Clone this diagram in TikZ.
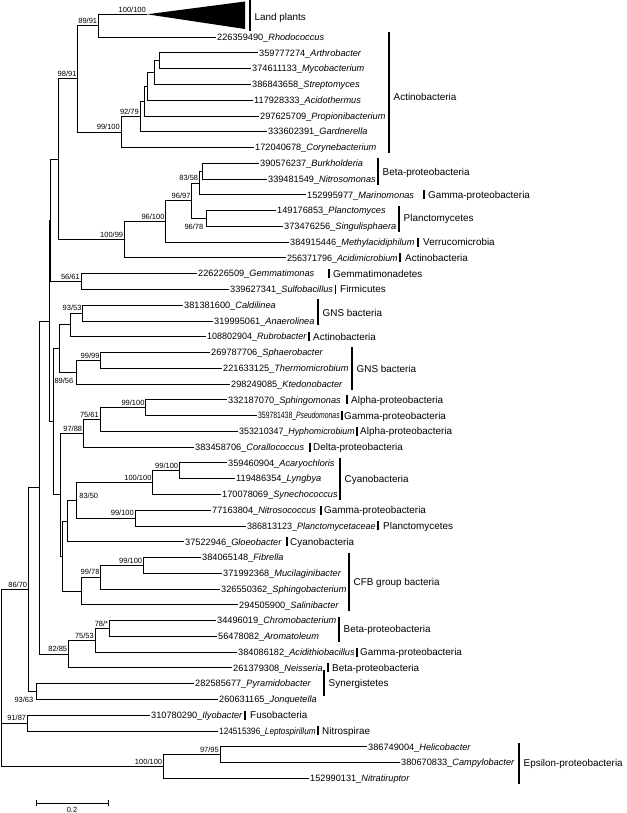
\documentclass[tikz,border=0pt]{standalone}
\usepackage{fontspec}
\usepackage{graphicx}
\setmainfont{Liberation Sans}
\usetikzlibrary{calc}
\newlength{\fitlen}
\newcommand{\fitto}[2]{\settowidth{\fitlen}{#2}\ifdim\fitlen>#1\relax\pgfmathsetmacro{\fitr}{#1/\fitlen}\scalebox{\fitr}[1]{#2}\else #2\fi}
\newcommand{\edge}[2]{\draw[br] (#1) |- (#2);}
\newcommand{\tleaf}[5]{\node[leaf] (#1) at (#2,#3) {\fitto{#4pt}{#5}};}
\newcommand{\ginl}[5]{\draw[gbar] (#2,#3-4.5) -- (#2,#3+4.5); \node[grp] (#1) at (#4,#3) {#5};}
\newcommand{\gblock}[6]{\draw[gbar] (#2,#3) -- (#2,#4); \node[grp] (#1) at (#2+4.5,#5) {#6};}
\begin{document}
\begin{tikzpicture}[x=1pt,y=-1pt,
  br/.style={line width=0.75pt},
  gbar/.style={line width=1.1pt},
  leaf/.style={anchor=west, inner sep=1pt, font=\fontsize{9.2}{10}\selectfont, text height=6.6pt, text depth=0pt},
  grp/.style={anchor=west, inner sep=0pt, font=\fontsize{9.9}{11}\selectfont, text height=7.1pt, text depth=0pt},
  bsbase/.style={inner sep=0.5pt, font=\fontsize{7.5}{8}\selectfont, text height=5.4pt, text depth=0pt},
  bs/.style={bsbase, anchor=south east, xshift=-0.5pt, yshift=1.5pt},
  bsb/.style={bsbase, anchor=north east, xshift=-2pt, yshift=-5.3pt},
  bsr/.style={bsbase, anchor=south west, xshift=2pt, yshift=1.5pt}]
\useasboundingbox (0,0) rectangle (626,813);

% internal nodes
\coordinate (root) at (1.5,677.9);
\coordinate (n8670) at (28.3,589.5);
\coordinate (n9187) at (27.3,723.0);
\coordinate (nE) at (163.3,766.4);
\coordinate (n9795) at (220,754.55);
\coordinate (nK) at (39.3,487.45);
\coordinate (n9363) at (36,691.5);
\coordinate (nZ) at (49.3,320.9);
\coordinate (n8285) at (68.3,654.0);
\coordinate (n7553) at (95,640.25);
\coordinate (n78) at (109.3,628.4);
\coordinate (nY) at (50.3,220.3);
\coordinate (nM) at (53.3,421.55);
\coordinate (nX) at (58.3,159.2);
\coordinate (n5661) at (81,281.45);
\coordinate (n9891) at (77.7,78.8);
\coordinate (n10099) at (124.3,239.55);
\coordinate (n8991) at (98.3,25.65);
\coordinate (nA99) at (121,131.9);
\coordinate (n9279) at (140,116.35);
\coordinate (nP) at (144,101.1);
\coordinate (nQ) at (147.7,86.3);
\coordinate (nR) at (154.7,72.5);
\coordinate (nS) at (159.7,60.65);
\coordinate (n96100) at (165.7,221.3);
\coordinate (n9697) at (191.7,200.65);
\coordinate (n8358) at (199.3,182.9);
\coordinate (nT) at (202.3,171.05);
\coordinate (n9678) at (206,218.4);
\coordinate (nW) at (59.3,348.5);
\coordinate (nV) at (70,324.8);
\coordinate (n9353) at (82.7,313.0);
\coordinate (n8956) at (76,372.15);
\coordinate (n9999) at (100.7,360.3);
\coordinate (nI) at (60,494.6);
\coordinate (n9788) at (83.3,433.2);
\coordinate (n7561) at (100,419.45);
\coordinate (nB99) at (145.7,407.6);
\coordinate (nH) at (62.7,555.95);
\coordinate (nG) at (67.7,521.0);
\coordinate (n8350) at (76.7,500.3);
\coordinate (nC100) at (152.7,482.55);
\coordinate (nC99) at (179.3,470.7);
\coordinate (nD99) at (135,518.0);
\coordinate (nCFB) at (81,590.9);
\coordinate (n9978) at (100.7,577.15);
\coordinate (nE99) at (143.3,565.3);
\coordinate (lp) at (147,14.3);

% leaves
\tleaf{l1}{216}{37.0}{169}{226359490\_\textit{Rhodococcus}}
\tleaf{l2}{258}{52.8}{127.5}{359777274\_\textit{Arthrobacter}}
\tleaf{l3}{251}{68.5}{134.5}{374611133\_\textit{Mycobacterium}}
\tleaf{l4}{251}{84.3}{134.5}{386843658\_\textit{Streptomyces}}
\tleaf{l5}{253}{100.1}{132.5}{117928333\_\textit{Acidothermus}}
\tleaf{l6}{259}{115.9}{126.5}{297625709\_\textit{Propionibacterium}}
\tleaf{l7}{267}{131.6}{118.5}{333602391\_\textit{Gardnerella}}
\tleaf{l8}{254}{147.4}{131.5}{172040678\_\textit{Corynebacterium}}
\tleaf{l9}{259}{163.2}{115.5}{390576237\_\textit{Burkholderia}}
\tleaf{l10}{267}{178.9}{107.5}{339481549\_\textit{Nitrosomonas}}
\tleaf{l11}{306}{194.7}{114.5}{152995977\_\textit{Marinomonas}}
\tleaf{l12}{276}{210.5}{119.5}{149176853\_\textit{Planctomyces}}
\tleaf{l13}{283}{226.3}{112.5}{373476256\_\textit{Singulisphaera}}
\tleaf{l14}{289}{242.0}{125.5}{384915446\_\textit{Methylacidiphilum}}
\tleaf{l15}{286}{257.8}{110.5}{256371796\_\textit{Acidimicrobium}}
\tleaf{l16}{197}{273.6}{128.5}{226226509\_\textit{Gemmatimonas}}
\tleaf{l17}{229}{289.3}{103}{339627341\_\textit{Sulfobacillus}}
\tleaf{l18}{183}{305.1}{131.5}{381381600\_\textit{Caldilinea}}
\tleaf{l19}{213}{320.9}{101.5}{319995061\_\textit{Anaerolinea}}
\tleaf{l20}{206}{336.6}{99.5}{108802904\_\textit{Rubrobacter}}
\tleaf{l21}{210}{352.4}{138.5}{269787706\_\textit{Sphaerobacter}}
\tleaf{l22}{222}{368.2}{126.5}{221633125\_\textit{Thermomicrobium}}
\tleaf{l23}{230}{384.0}{118.5}{298249085\_\textit{Ktedonobacter}}
\tleaf{l24}{227}{399.7}{116.5}{332187070\_\textit{Sphingomonas}}
\tleaf{l25}{257}{415.5}{81.5}{359781438\_\textit{Pseudomonas}}
\tleaf{l26}{238}{431.3}{115.5}{353210347\_\textit{Hyphomicrobium}}
\tleaf{l27}{194}{447.0}{112.5}{383458706\_\textit{Corallococcus}}
\tleaf{l28}{227}{462.8}{109.5}{359460904\_\textit{Acaryochloris}}
\tleaf{l29}{235}{478.6}{101.5}{119486354\_\textit{Lyngbya}}
\tleaf{l30}{221}{494.4}{115.5}{170078069\_\textit{Synechococcus}}
\tleaf{l31}{211}{510.1}{106.5}{77163804\_\textit{Nitrosococcus}}
\tleaf{l32}{246}{525.9}{128.5}{386813123\_\textit{Planctomycetaceae}}
\tleaf{l33}{184}{541.7}{99.5}{37522946\_\textit{Gloeobacter}}
\tleaf{l34}{201}{557.4}{144.5}{384065148\_\textit{Fibrella}}
\tleaf{l35}{222}{573.2}{123.5}{371992368\_\textit{Mucilaginibacter}}
\tleaf{l36}{220}{589.0}{125.5}{326550362\_\textit{Sphingobacterium}}
\tleaf{l37}{238}{604.7}{107.5}{294505900\_\textit{Salinibacter}}
\tleaf{l38}{216}{620.5}{119.5}{34496019\_\textit{Chromobacterium}}
\tleaf{l39}{217}{636.3}{118.5}{56478082\_\textit{Aromatoleum}}
\tleaf{l40}{237}{652.1}{116.5}{384086182\_\textit{Acidithiobacillus}}
\tleaf{l41}{232}{667.8}{92.5}{261379308\_\textit{Neisseria}}
\tleaf{l42}{194}{683.6}{126.5}{282585677\_\textit{Pyramidobacter}}
\tleaf{l43}{218}{699.4}{102.5}{260631165\_\textit{Jonquetella}}
\tleaf{l44}{150}{715.1}{91.5}{310780290\_\textit{Ilyobacter}}
\tleaf{l45}{218}{730.9}{96.5}{124515396\_\textit{Leptospirillum}}
\tleaf{l46}{367}{746.7}{148}{386749004\_\textit{Helicobacter}}
\tleaf{l47}{400}{762.4}{115.5}{380670833\_\textit{Campylobacter}}
\tleaf{l48}{309}{778.2}{206}{152990131\_\textit{Nitratiruptor}}

% collapsed land plants clade
\fill (lp) -- (245,1.5) -- (245,29) -- cycle;

% edges
\edge{root}{n8670} \edge{root}{n9187} \edge{root}{nE}
\edge{n8670}{nK} \edge{n8670}{n9363}
\edge{n9187}{l44.west} \edge{n9187}{l45.west}
\edge{nE}{n9795} \edge{nE}{l48.west}
\edge{n9795}{l46.west} \edge{n9795}{l47.west}
\edge{nK}{nZ} \edge{nK}{n8285}
\edge{n9363}{l42.west} \edge{n9363}{l43.west}
\edge{n8285}{n7553} \edge{n8285}{l41.west}
\edge{n7553}{n78} \edge{n7553}{l40.west}
\edge{n78}{l38.west} \edge{n78}{l39.west}
\edge{nZ}{nY} \edge{nZ}{nM}
\edge{nY}{nX} \edge{nY}{n5661}
\edge{nX}{n9891} \edge{nX}{n10099}
\edge{n9891}{n8991} \edge{n9891}{nA99}
\edge{n8991}{lp} \edge{n8991}{l1.west}
\edge{nA99}{n9279} \edge{nA99}{l8.west}
\edge{n9279}{nP} \edge{n9279}{l7.west}
\edge{nP}{nQ} \edge{nP}{l6.west}
\edge{nQ}{nR} \edge{nQ}{l5.west}
\edge{nR}{nS} \edge{nR}{l4.west}
\edge{nS}{l2.west} \edge{nS}{l3.west}
\edge{n10099}{n96100} \edge{n10099}{l15.west}
\edge{n96100}{n9697} \edge{n96100}{l14.west}
\edge{n9697}{n8358} \edge{n9697}{n9678}
\edge{n8358}{nT} \edge{n8358}{l11.west}
\edge{nT}{l9.west} \edge{nT}{l10.west}
\edge{n9678}{l12.west} \edge{n9678}{l13.west}
\edge{n5661}{l16.west} \edge{n5661}{l17.west}
\edge{nM}{nW} \edge{nM}{nI}
\edge{nW}{nV} \edge{nW}{n8956}
\edge{nV}{n9353} \edge{nV}{l20.west}
\edge{n9353}{l18.west} \edge{n9353}{l19.west}
\edge{n8956}{n9999} \edge{n8956}{l23.west}
\edge{n9999}{l21.west} \edge{n9999}{l22.west}
\edge{nI}{n9788} \edge{nI}{nH}
\edge{n9788}{n7561} \edge{n9788}{l27.west}
\edge{n7561}{nB99} \edge{n7561}{l26.west}
\edge{nB99}{l24.west} \edge{nB99}{l25.west}
\edge{nH}{nG} \edge{nH}{nCFB}
\edge{nG}{n8350} \edge{nG}{l33.west}
\edge{n8350}{nC100} \edge{n8350}{nD99}
\edge{nC100}{nC99} \edge{nC100}{l30.west}
\edge{nC99}{l28.west} \edge{nC99}{l29.west}
\edge{nD99}{l31.west} \edge{nD99}{l32.west}
\edge{nCFB}{n9978} \edge{nCFB}{l37.west}
\edge{n9978}{nE99} \edge{n9978}{l36.west}
\edge{nE99}{l34.west} \edge{nE99}{l35.west}

% bootstrap values
\node[bs] (b1) at (n8991) {89/91};
\node[bs] (b2) at (lp) {100/100};
\node[bs] (b3) at (n9891) {98/91};
\node[bs] (b4) at (nA99) {99/100};
\node[bs] (b5) at (n9279) {92/79};
\node[bs] (b6) at (n8358) {83/58};
\node[bs] (b7) at (n9697) {96/97};
\node[bsb] (b8) at (n9678) {96/78};
\node[bs] (b9) at (n96100) {96/100};
\node[bs] (b10) at (n10099) {100/99};
\node[bs] (b11) at (n5661) {56/61};
\node[bs] (b12) at (n9353) {93/53};
\node[bs] (b13) at (n9999) {99/99};
\node[bsb] (b14) at (n8956) {89/56};
\node[bs] (b15) at (nB99) {99/100};
\node[bs] (b16) at (n7561) {75/61};
\node[bs] (b17) at (n9788) {97/88};
\node[bs] (b18) at (nC99) {99/100};
\node[bs] (b19) at (nC100) {100/100};
\node[bsr] (b20) at (n8350) {83/50};
\node[bs] (b21) at (nD99) {99/100};
\node[bs] (b22) at (nE99) {99/100};
\node[bs] (b23) at (n9978) {99/78};
\node[bs] (b24) at (n78) {78/*};
\node[bs] (b25) at (n7553) {75/53};
\node[bs] (b26) at (n8285) {82/85};
\node[bs] (b27) at (n8670) {86/70};
\node[bsb] (b28) at (n9363) {93/63};
\node[bs] (b29) at (n9187) {91/87};
\node[bs] (b30) at (n9795) {97/95};
\node[bs] (b31) at (nE) {100/100};

% group labels
\gblock{g1}{250}{0.5}{31}{16.5}{Land plants}
\gblock{g2}{389}{32}{153}{97}{Actinobacteria}
\gblock{g3}{378}{158}{185}{172}{Beta-proteobacteria}
\ginl{g4}{424}{194.7}{428}{Gamma-proteobacteria}
\gblock{g5}{399}{206}{232}{218}{Planctomycetes}
\ginl{g6}{418}{242.0}{423}{Verrucomicrobia}
\ginl{g7}{400}{257.8}{405}{Actinobacteria}
\ginl{g8}{329}{273.6}{333}{Gemmatimonadetes}
\ginl{g9}{335.5}{289.3}{340}{Firmicutes}
\gblock{g10}{318}{299}{325}{313}{GNS bacteria}
\ginl{g11}{309}{336.6}{313}{Actinobacteria}
\gblock{g12}{352}{347}{390}{369}{GNS bacteria}
\ginl{g13}{347}{399.7}{351}{Alpha-proteobacteria}
\ginl{g14}{342}{415.5}{344}{Gamma-proteobacteria}
\ginl{g15}{357}{431.3}{360}{Alpha-proteobacteria}
\ginl{g16}{310}{447.0}{313}{Delta-proteobacteria}
\gblock{g17}{340}{458}{500}{479}{Cyanobacteria}
\ginl{g18}{321}{510.1}{324}{Gamma-proteobacteria}
\ginl{g19}{378}{525.9}{383}{Planctomycetes}
\ginl{g20}{287}{541.7}{290}{Cyanobacteria}
\gblock{g21}{349}{553}{611}{582}{CFB group bacteria}
\gblock{g22}{339}{617}{642}{629}{Beta-proteobacteria}
\ginl{g23}{357}{652.1}{360}{Gamma-proteobacteria}
\ginl{g24}{328}{667.8}{332}{Beta-proteobacteria}
\gblock{g25}{324}{670}{696}{683}{Synergistetes}
\ginl{g26}{245}{715.1}{250}{Fusobacteria}
\ginl{g27}{318}{730.9}{322}{Nitrospirae}
\gblock{g28}{519}{743}{784}{763}{Epsilon-proteobacteria}

% scale bar
\coordinate (s1) at (36,803);
\coordinate (s2) at (108,803);
\draw[br] (s1) -- (s2);
\draw[br] ([yshift=3pt]s1) -- ([yshift=-3pt]s1);
\draw[br] ([yshift=3pt]s2) -- ([yshift=-3pt]s2);
\node[bsbase, anchor=north] (sc) at ($(s1)!0.5!(s2)+(0,3.5)$) {0.2};
\end{tikzpicture}
\end{document}
